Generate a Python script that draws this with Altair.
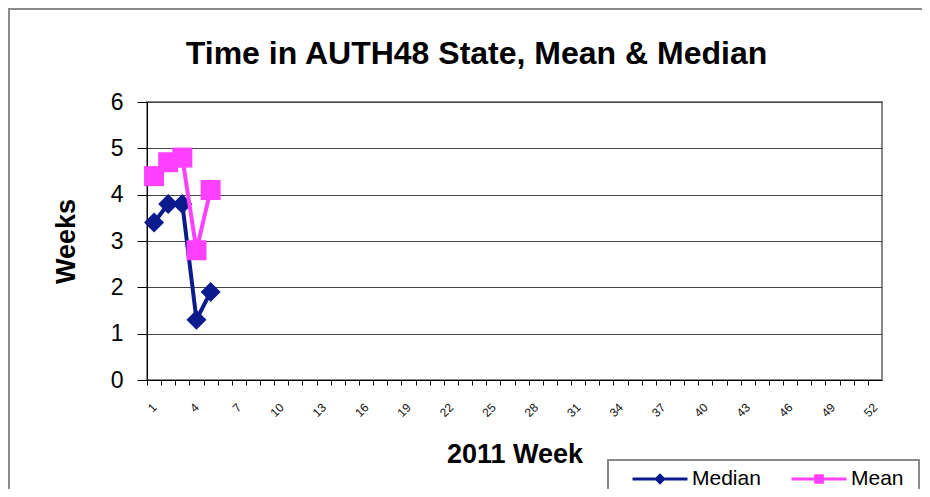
import altair as alt
import pandas as pd

# ---- data ----
weeks = [1, 2, 3, 4, 5]
median_weeks = [3.4, 3.8, 3.8, 1.3, 1.9]
mean_weeks = [4.4, 4.7, 4.8, 2.8, 4.1]
series_names = ["Median", "Mean"]
series_colors = ["#0B1A8C", "#FF40FF"]
week_ticks = list(range(1, 53))
y_ticks = [0, 1, 2, 3, 4, 5, 6]

df = pd.DataFrame({
    "week": weeks + weeks,
    "value": median_weeks + mean_weeks,
    "series": ["Median"] * len(weeks) + ["Mean"] * len(weeks),
})
one = pd.DataFrame({"k": [0]})

FONT = "Liberation Sans"
W, H = 735, 278
band = W / 52

x_enc = alt.X(
    "week:Q",
    scale=alt.Scale(domain=[0.5, 52.5], nice=False, zero=False),
    axis=alt.Axis(
        values=week_ticks,
        labelExpr="(datum.value - 1) % 3 == 0 ? datum.label : ''",
        labelAngle=-45, labelAlign="right", labelBaseline="middle",
        labelFontSize=12, labelFont=FONT, labelColor="#111",
        labelPadding=20, labelOverlap=False, labelFlush=False,
        tickSize=5, tickOffset=-band / 2, labelOffset=band / 2,
        tickColor="black", domainColor="black", grid=False,
        title="2011 Week", titleFont=FONT, titleFontSize=27,
        titleFontWeight="bold", titleColor="black",
        titleY=82, titleBaseline="alphabetic",
    ),
)
y_enc = alt.Y(
    "value:Q",
    scale=alt.Scale(domain=[0, 6], nice=False),
    axis=alt.Axis(
        values=y_ticks, tickSize=10, tickColor="black", domainColor="black",
        labelFont=FONT, labelFontSize=23, labelColor="black", labelPadding=14,
        grid=True, gridColor="#444", gridWidth=1,
        title="Weeks", titleFont=FONT, titleFontSize=27, titleFontWeight="bold",
        titleColor="black", titleX=-73, titleBaseline="alphabetic",
    ),
)

base = alt.Chart(df)

frame_top = alt.Chart(one).mark_rule(stroke="#8a8a8a", strokeWidth=2).encode(
    x=alt.value(-139), x2=alt.value(800), y=alt.value(-93)
)
frame_left = alt.Chart(one).mark_rule(stroke="#8a8a8a", strokeWidth=2).encode(
    x=alt.value(-138), y=alt.value(-94), y2=alt.value(400)
)
legend_box = alt.Chart(one).mark_rect(fill="white", stroke="#8a8a8a", strokeWidth=2).encode(
    x=alt.value(461), x2=alt.value(772), y=alt.value(358), y2=alt.value(600)
)

med_line = base.transform_filter("datum.series == 'Median'").mark_line(
    color=series_colors[0], strokeWidth=4).encode(x=x_enc, y=y_enc)
med_pts = base.transform_filter("datum.series == 'Median'").mark_point(
    shape="diamond", filled=True, opacity=1, size=400, color=series_colors[0]).encode(x=x_enc, y=y_enc)
mean_line = base.transform_filter("datum.series == 'Mean'").mark_line(
    color=series_colors[1], strokeWidth=4).encode(x=x_enc, y=y_enc)
mean_pts = base.transform_filter("datum.series == 'Mean'").mark_point(
    shape="square", filled=True, opacity=1, size=400, color=series_colors[1]).encode(x=x_enc, y=y_enc)

path_med = "M-1,0L1,0M0,-0.13L0.13,0L0,0.13L-0.13,0Z"
path_mean = "M-1,0L1,0M-0.12,-0.12L0.12,-0.12L0.12,0.12L-0.12,0.12Z"
leg = alt.Legend(title=None)
legend_layer = base.transform_filter("false").mark_point(filled=True).encode(
    x=x_enc, y=y_enc,
    fill=alt.Fill("series:N", scale=alt.Scale(domain=series_names, range=series_colors), legend=leg),
    stroke=alt.Stroke("series:N", scale=alt.Scale(domain=series_names, range=series_colors), legend=leg),
    shape=alt.Shape("series:N", scale=alt.Scale(domain=series_names, range=[path_med, path_mean]), legend=leg),
)

chart = alt.layer(frame_top, frame_left, legend_box, med_line, med_pts, mean_line, mean_pts, legend_layer).properties(
    width=W, height=H,
    autosize=alt.AutoSizeParams(type="none"),
    padding={"left": 139, "top": 94, "right": 40, "bottom": 109},
    title=alt.TitleParams(
        "Time in AUTH48 State, Mean & Median", font=FONT, fontSize=32,
        fontWeight="bold", color="black", anchor="middle", frame="group",
        dx=-38, dy=89, baseline="alphabetic", offset=0,
    ),
).configure_view(stroke="#8a8a8a", strokeWidth=2).configure_legend(
    orient="none", legendX=484, legendY=348, direction="horizontal",
    padding=0, labelFont=FONT, labelFontSize=21, labelColor="black",
    labelOffset=3, columnPadding=24, symbolSize=3025, symbolStrokeWidth=3,
    symbolOpacity=1,
)

chart.save("out.html", embed_options={"renderer": "svg", "actions": False})
